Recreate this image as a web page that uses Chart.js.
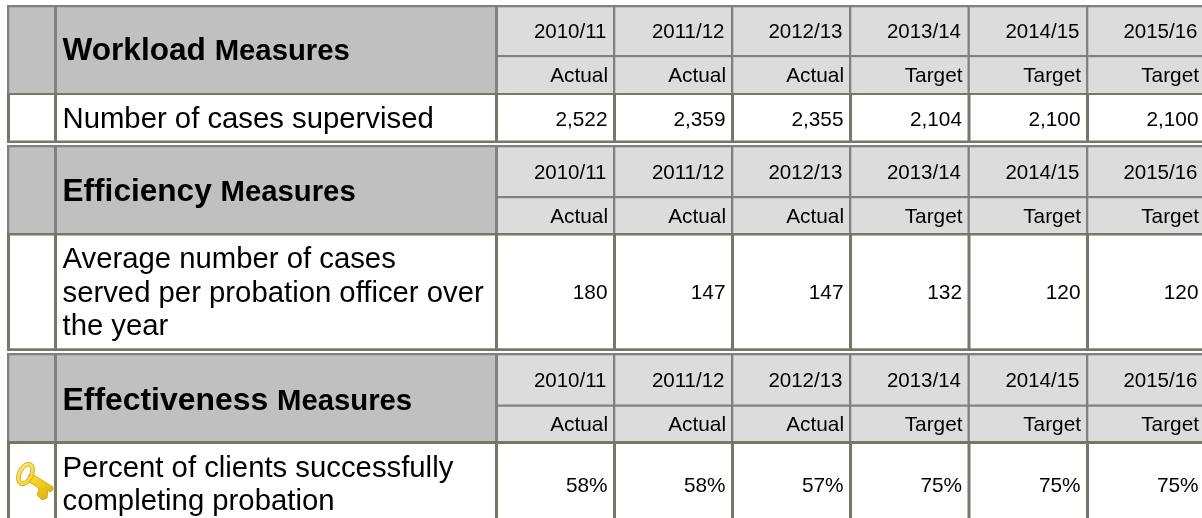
<!DOCTYPE html>
<html><head><meta charset="utf-8">
<style>html,body{margin:0;padding:0;background:#fff}canvas{display:block}</style>
<script src="https://cdn.jsdelivr.net/npm/chart.js@4"></script>
</head><body><canvas id="c" width="1202" height="518"></canvas>
<script>
// ---- data ----
const years = ['2010/11','2011/12','2012/13','2013/14','2014/15','2015/16'];
const kinds = ['Actual','Actual','Actual','Target','Target','Target'];
const workloadValues = [2522,2359,2355,2104,2100,2100];
const efficiencyValues = [180,147,147,132,120,120];
const effectivenessValues = [58,58,57,75,75,75];
const sectionWords = [['Workload','Measures'],['Efficiency','Measures'],['Effectiveness','Measures']];
const measureLines = [
  ['Number of cases supervised'],
  ['Average number of cases','served per probation officer over','the year'],
  ['Percent of clients successfully','completing probation']
];
// ---- layout (axis units) ----
const colEdges = [495,613,731,849,967.5,1086,1204];
const tables = [
 {top:5, mid:55, rule:93, ruleEnd:95, bottom:140.5, end:143, titleBase:60, titleSize:31.6, yearBase:38, kindBase:82, valBase:126, lineBases:[128]},
 {top:145,mid:196,rule:233,ruleEnd:235.5,bottom:348.3,end:351,titleBase:201, titleSize:31.6,yearBase:179,kindBase:223,valBase:299,lineBases:[268,302,335]},
 {top:353,mid:404.5,rule:441,ruleEnd:444,bottom:520,end:520,titleBase:410, titleSize:31.9,yearBase:387,kindBase:431,valBase:491.5,lineBases:[477,510]}
];
const fmt = [v=>v.toLocaleString('en-US'), v=>String(v), v=>v+'%'];
const allValues = [workloadValues,efficiencyValues,effectivenessValues];
const FONT = '"Liberation Sans", Arial, sans-serif';
const datasets = allValues.map((vals,t)=>({
  label: measureLines[t].join(' '),
  data: vals.map((v,i)=>({x: colEdges[i+1]-5.5, y: tables[t].valBase, text: fmt[t](v)})),
  pointRadius:0, showLine:false
}));
const tablePlugin = {
  id:'table',
  beforeDatasetsDraw(chart){
    const {ctx,scales:{x,y}} = chart;
    const rect=(x0,y0,x1,y1,c)=>{
      const a=x.getPixelForValue(x0),b=y.getPixelForValue(y0);
      ctx.fillStyle=c;ctx.fillRect(a,b,x.getPixelForValue(x1)-a,y.getPixelForValue(y1)-b);
    };
    const text=(s,px,py,font,align)=>{
      ctx.font=font;ctx.textAlign=align||'left';ctx.textBaseline='alphabetic';ctx.fillStyle='#000';
      ctx.fillText(s,x.getPixelForValue(px),y.getPixelForValue(py));
    };
    const HL='#808080', RL='#76766a';
    tables.forEach((t,ti)=>{
      rect(9.5,t.top,495,t.rule,'#c0c0c0');
      rect(495,t.top,1202,t.rule,'#dcdcdc');
      rect(7,t.top,1202,t.top+2.3,HL);
      rect(495,t.mid,1202,t.mid+2.2,HL);
      rect(7,t.top,9.5,t.rule,HL);
      rect(54,t.top,57,t.rule,HL);
      colEdges.slice(0,-1).forEach((e,i)=>rect(e,t.top,e+(i?2.3:3),t.rule,HL));
      rect(7,t.rule,1202,t.ruleEnd,RL);
      if(t.bottom<518) rect(7,t.bottom,1202,t.end,RL);
      rect(7,t.rule,10,t.end,RL);
      rect(54,t.rule,57,t.end,RL);
      colEdges.slice(0,-1).forEach(e=>rect(e,t.rule,e+3,t.end,RL));
      const w=sectionWords[ti];
      text(w[0],62.5,t.titleBase,'bold '+t.titleSize+'px '+FONT);
      const wW=ctx.measureText(w[0]+' ').width;
      text(w[1],62.5+wW,t.titleBase,'bold 29.3px '+FONT);
      years.forEach((yr,i)=>{
        text(yr,colEdges[i+1]-6.5,t.yearBase,'20.5px '+FONT,'right');
        text(kinds[i],colEdges[i+1]-5,t.kindBase,'20.8px '+FONT,'right');
      });
      measureLines[ti].forEach((l,i)=>text(l,62.5,t.lineBases[i],'29.3px '+FONT));
    });
    chart.data.datasets.forEach((ds,di)=>{
      chart.getDatasetMeta(di).data.forEach((el,i)=>{
        ctx.font='20.8px '+FONT;ctx.textAlign='right';ctx.textBaseline='alphabetic';ctx.fillStyle='#000';
        ctx.fillText(ds.data[i].text,el.x,el.y);
      });
    });
    // key icon
    ctx.save();
    ctx.translate(x.getPixelForValue(16),y.getPixelForValue(462));
    const g=ctx.createLinearGradient(0,0,36,38);
    g.addColorStop(0,'#ffe97a');g.addColorStop(.5,'#f8d41f');g.addColorStop(1,'#e0ab10');
    ctx.strokeStyle='#c79f20';ctx.fillStyle=g;ctx.lineWidth=.8;
    ctx.beginPath();
    ctx.moveTo(16,12);ctx.lineTo(37,25);ctx.lineTo(37,28);ctx.lineTo(34,30);ctx.lineTo(32,28);
    ctx.lineTo(31,36);ctx.lineTo(26,38);ctx.lineTo(21,33);ctx.lineTo(23,27);ctx.lineTo(19,23.5);ctx.lineTo(13,20);ctx.closePath();
    ctx.fill();ctx.stroke();
    ctx.beginPath();
    ctx.ellipse(9.5,12,8,12.5,0.45,0,Math.PI*2);
    ctx.closePath();
    ctx.moveTo(13.5,12);
    ctx.ellipse(9.5,12,4,8.5,0.45,0,Math.PI*2,true);
    ctx.closePath();
    ctx.fill('evenodd');ctx.stroke();
    ctx.restore();
  }
};
new Chart(document.getElementById('c'),{
  type:'scatter',
  data:{datasets},
  plugins:[tablePlugin],
  options:{
    responsive:false,animation:false,
    layout:{padding:0},
    plugins:{legend:{display:false},tooltip:{enabled:false},title:{display:false}},
    scales:{
      x:{type:'linear',min:0,max:1202,display:false},
      y:{type:'linear',min:0,max:518,reverse:true,display:false}
    }
  }
});
</script></body></html>
